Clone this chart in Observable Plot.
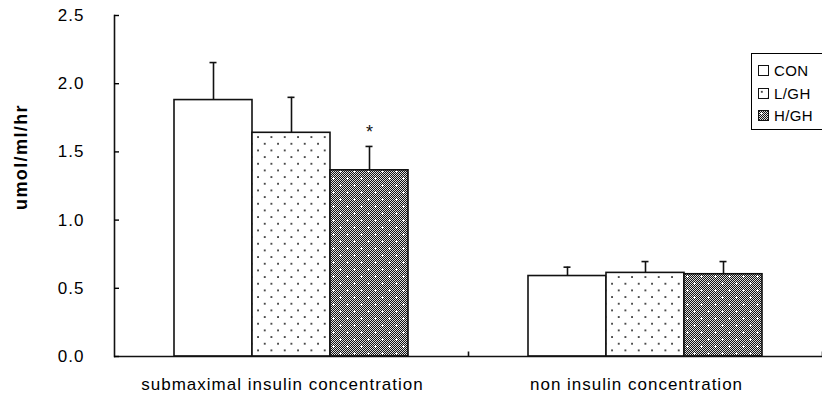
<!DOCTYPE html>
<html>
<head>
<meta charset="utf-8">
<script src="https://cdn.jsdelivr.net/npm/d3@7"></script>
<script src="https://cdn.jsdelivr.net/npm/@observablehq/plot@0.6"></script>
<style>
  html, body { margin: 0; padding: 0; background: #fff; }
  #wrap { position: relative; width: 822px; height: 396px; overflow: hidden; font-family: "Liberation Sans", Arial, sans-serif; }
  #legend { position: absolute; left: 751px; top: 53px; width: 90px; height: 77px; border: 1px solid #000; box-sizing: border-box; font-size: 15px; letter-spacing: 0.4px; }
  #legend .row { position: absolute; left: 6px; height: 12px; display: flex; align-items: center; }
  #legend svg { display: block; margin-right: 5px; }
</style>
</head>
<body>
<div id="wrap"><div id="chart"></div><div id="legend"></div></div>
<script>
// ---- data ----
const groups = ["submaximal insulin concentration", "non insulin concentration"];
const treatments = ["CON", "L/GH", "H/GH"];
const means = [
  [1.88, 1.64, 1.365],   // submaximal insulin
  [0.59, 0.613, 0.603]   // non insulin
];
const sems = [
  [0.275, 0.26, 0.175],
  [0.065, 0.083, 0.093]
];
const significant = [
  [false, false, true],
  [false, false, false]
];
const yTicks = [0, 0.5, 1.0, 1.5, 2.0, 2.5];
const yLabel = "umol/ml/hr";

// ---- styles ----
const fills = ["#ffffff", "url(#dotsPat)", "url(#hghPat)"];

const rows = [];
groups.forEach((g, gi) => treatments.forEach((t, ti) => rows.push({
  group: g, treat: t, value: means[gi][ti], err: sems[gi][ti],
  top: means[gi][ti] + sems[gi][ti], sig: significant[gi][ti]
})));
const sigRows = rows.filter(d => d.sig);

const vline = len => ({draw(ctx) { ctx.moveTo(0, 0); ctx.lineTo(0, -len); }});

const chart = Plot.plot({
  width: 822,
  height: 396,
  marginLeft: 113,
  marginRight: 0,
  marginTop: 15,
  marginBottom: 40,
  style: {fontFamily: "Liberation Sans, Arial, sans-serif", fontSize: "17px", color: "#000", background: "#fff"},
  fx: {domain: groups, padding: 0, label: null},
  x: {domain: treatments, paddingInner: 0, paddingOuter: 0.75, axis: null},
  y: {domain: [0, 2.5], label: null},
  color: {domain: treatments, range: fills},
  marks: [
    Plot.ruleX(rows, {fx: "group", x: "treat", y1: "value", y2: "top", stroke: "#111", strokeWidth: 1.6}),
    Plot.tickY(rows, {fx: "group", x: "treat", y: "top", stroke: "#111", strokeWidth: 1.6, insetLeft: 35.5, insetRight: 35.5}),
    Plot.barY(rows, {fx: "group", x: "treat", y: "value", fill: "treat", stroke: "#111", strokeWidth: 1.6}),
    Plot.text(sigRows, {fx: "group", x: "treat", y: "top", text: () => "*", dy: -14, fontSize: 18, fill: "#111"}),
    Plot.ruleY([0], {stroke: "#111", strokeWidth: 1.6}),
    Plot.dot([0], {frameAnchor: "bottom-right", symbol: vline(5), r: 5, stroke: "#111", strokeWidth: 1.6, fill: "none"}),
    Plot.frame({anchor: "left", facetAnchor: "left", stroke: "#111", strokeWidth: 1.6}),
    Plot.axisY({ticks: yTicks, tickFormat: d3.format(".1f"), tickSize: -5, tickPadding: 35, strokeWidth: 1.4,
      label: yLabel, labelAnchor: "center", labelArrow: "none", labelOffset: 100, fontSize: 17}),
    Plot.axisFx({anchor: "bottom", tickSize: 0, tickPadding: 21, dx: -9, label: null, fontSize: 17})
  ]
});

chart.insertAdjacentHTML("afterbegin", `
<defs>
  <pattern id="dotsPat" width="13.33" height="13.33" patternUnits="userSpaceOnUse">
    <rect width="13.33" height="13.33" fill="#fff"/>
    <rect x="3" y="3" width="1.6" height="1.6" fill="#000"/>
    <rect x="9.67" y="9.67" width="1.6" height="1.6" fill="#000"/>
  </pattern>
  <pattern id="checkPat" width="2" height="2" patternUnits="userSpaceOnUse">
    <rect width="2" height="2" fill="#dcdcdc"/>
    <rect width="1" height="1" fill="#141414"/>
    <rect x="1" y="1" width="1" height="1" fill="#141414"/>
  </pattern>
  <pattern id="hghPat" width="14" height="14" patternUnits="userSpaceOnUse">
    <rect width="14" height="14" fill="url(#checkPat)"/>
    <rect x="3" y="2" width="1" height="3" fill="#fff"/>
    <rect x="2" y="3" width="3" height="1" fill="#fff"/>
    <rect x="10" y="9" width="1" height="3" fill="#fff"/>
    <rect x="9" y="10" width="3" height="1" fill="#fff"/>
  </pattern>
</defs>`);

// text tracking similar to the reference
chart.querySelectorAll("[aria-label='y-axis tick label'] text, [aria-label='fx-axis tick label'] text")
  .forEach(t => t.setAttribute("letter-spacing", "1"));
// y-axis label: bold, centred where the reference puts it
chart.querySelectorAll("[aria-label='y-axis label'] text").forEach(t => {
  t.setAttribute("font-weight", "bold");
  t.setAttribute("font-size", "18");
  t.setAttribute("letter-spacing", "1.4");
  t.setAttribute("text-anchor", "middle");
  t.setAttribute("dy", "0.35em");
  t.setAttribute("transform", "translate(21,157) rotate(-90)");
  t.removeAttribute("x"); t.removeAttribute("y");
  const g = t.parentNode; if (g) g.removeAttribute("transform");
});

document.getElementById("chart").appendChild(chart);

// legend
const legend = document.getElementById("legend");
const rowTops = [10, 33, 55];
treatments.forEach((t, i) => {
  const row = document.createElement("div");
  row.className = "row";
  row.style.top = rowTops[i] + "px";
  row.innerHTML = `<svg width="11" height="11"><rect x="0.5" y="0.5" width="10" height="10" fill="${fills[i]}" stroke="#111" stroke-width="1"/></svg><span>${t}</span>`;
  legend.appendChild(row);
});
</script>
</body>
</html>
